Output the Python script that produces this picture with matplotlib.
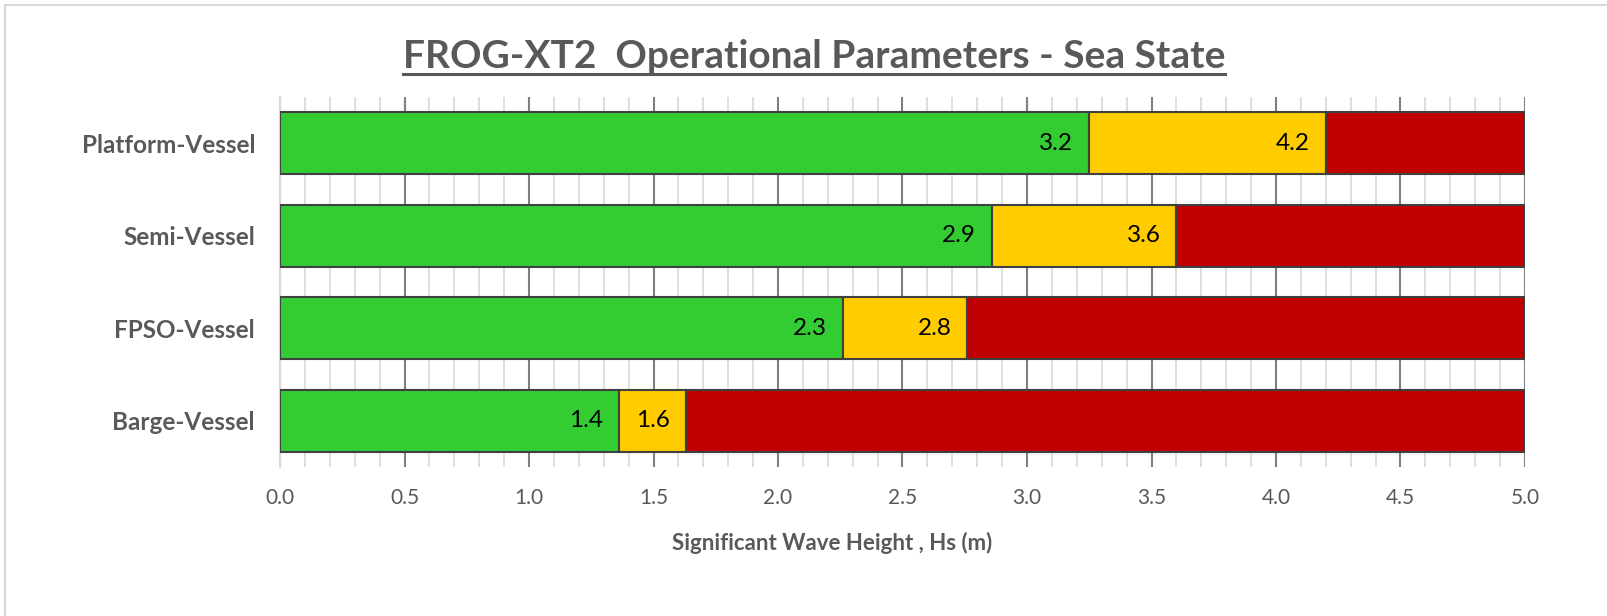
import matplotlib.pyplot as plt
from matplotlib.patches import Rectangle
from matplotlib.lines import Line2D
from matplotlib.ticker import MultipleLocator

# --- Dados ---
categorias = ['Platform-Vessel', 'Semi-Vessel', 'FPSO-Vessel', 'Barge-Vessel']
limite_verde = [3.25, 2.86, 2.26, 1.36]     # fim da zona verde (Hs, m)
limite_amarelo = [4.2, 3.6, 2.76, 1.63]     # fim da zona amarela (Hs, m)
hs_max = 5.0

titulo = 'FROG-XT2  Operational Parameters - Sea State'
rotulo_x = 'Significant Wave Height , Hs (m)'

cor_verde = '#33CC33'
cor_amarelo = '#FFCC00'
cor_vermelho = '#C00000'
cor_borda = '#404040'
cor_texto = '#595959'

plt.rcParams['font.family'] = ['Lato', 'DejaVu Sans']

fig = plt.figure(figsize=(16.07, 6.16), dpi=100)
W, H = 1607, 616
ax = fig.add_axes([280 / W, 1 - 467 / H, (1525 - 280) / W, (467 - 97) / H])

# moldura externa (cortada à direita e embaixo)
fig.patches.append(Rectangle((5 / W, -0.05), 1.1, 1 - 5 / H + 0.05, transform=fig.transFigure,
                             fill=False, edgecolor='#D9D9D9', linewidth=1.5))

y = list(range(len(categorias)))
largura_amarelo = [a - v for v, a in zip(limite_verde, limite_amarelo)]
largura_vermelho = [hs_max - a for a in limite_amarelo]

kw = dict(height=0.667, edgecolor=cor_borda, linewidth=1.5, zorder=3)
ax.barh(y, limite_verde, color=cor_verde, **kw)
ax.barh(y, largura_amarelo, left=limite_verde, color=cor_amarelo, **kw)
ax.barh(y, largura_vermelho, left=limite_amarelo, color=cor_vermelho, **kw)

# rótulos no fim de cada zona
for i in y:
    for val in (limite_verde[i], limite_amarelo[i]):
        ax.annotate(f'{val:.1f}', xy=(val, i), xytext=(-11.5, 0), textcoords='offset points',
                    ha='right', va='center', fontsize=17.5, color='black', zorder=4)

ax.set_xlim(0, hs_max)
ax.set_ylim(len(categorias) - 0.5, -0.5)
ax.xaxis.set_major_locator(MultipleLocator(0.5))
ax.xaxis.set_minor_locator(MultipleLocator(0.1))
ax.grid(which='minor', axis='x', color='#D9D9D9', linewidth=1.2, zorder=0)
ax.grid(which='major', axis='x', color='#7F7F7F', linewidth=1.5, zorder=1)
for s in ['top', 'right', 'bottom']:
    ax.spines[s].set_visible(False)
ax.spines['left'].set_color('#D9D9D9')
ax.spines['left'].set_linewidth(1.5)
ax.tick_params(which='both', length=0)
ax.tick_params(axis='x', pad=15, labelsize=15, labelcolor=cor_texto)
ax.tick_params(axis='y', pad=18, labelsize=17.5, labelcolor=cor_texto)
ax.set_xticklabels([f'{t:.1f}' for t in ax.get_xticks()])
ax.set_yticks(y)
ax.set_yticklabels(categorias, fontweight='bold')

fig.text(832 / W, 1 - 543 / H, rotulo_x, ha='center', va='center',
         fontsize=16, fontweight='bold', color=cor_texto)

t = fig.text(814 / W, 1 - 68 / H, titulo, ha='center', va='baseline',
             fontsize=28, fontweight='bold', color=cor_texto)

# sublinhado do título
fig.canvas.draw()
bb = t.get_window_extent().transformed(fig.transFigure.inverted())
y_linha = 1 - 74 / H
fig.lines.append(Line2D([bb.x0, bb.x1], [y_linha, y_linha], transform=fig.transFigure,
                        color=cor_texto, linewidth=2.2))

fig.savefig('out.png', dpi=100)
